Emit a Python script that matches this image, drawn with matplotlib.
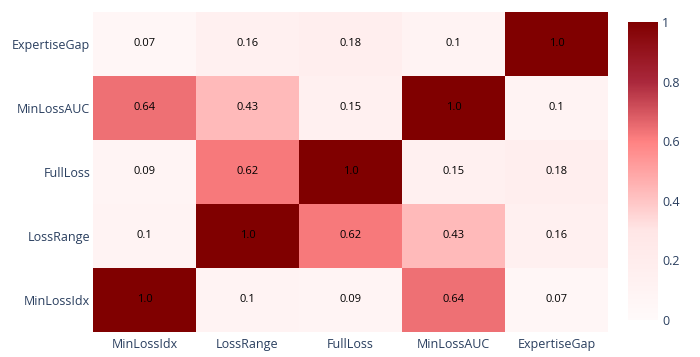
import numpy as np
import matplotlib
matplotlib.use("Agg")
import matplotlib.pyplot as plt
from matplotlib.colors import LinearSegmentedColormap

# variables in column order (x) and row order from bottom to top (y)
labels = ["MinLossIdx", "LossRange", "FullLoss", "MinLossAUC", "ExpertiseGap"]

# correlation values, row i = labels[i] (bottom row first)
row_minlossidx = [1.0, 0.1, 0.09, 0.64, 0.07]
row_lossrange = [0.1, 1.0, 0.62, 0.43, 0.16]
row_fullloss = [0.09, 0.62, 1.0, 0.15, 0.18]
row_minlossauc = [0.64, 0.43, 0.15, 1.0, 0.1]
row_expertisegap = [0.07, 0.16, 0.18, 0.1, 1.0]

cbar_ticks = [0, 0.2, 0.4, 0.6, 0.8, 1]

corr = np.array([row_minlossidx, row_lossrange, row_fullloss,
                 row_minlossauc, row_expertisegap])

# custom red scale
cmap = LinearSegmentedColormap.from_list("reds_custom", [
    (0.0, (255/255, 250/255, 250/255)),
    (0.3, (255/255, 230/255, 230/255)),
    (0.6, (255/255, 130/255, 130/255)),
    (0.8, (170/255, 40/255, 60/255)),
    (1.0, (128/255, 0/255, 0/255)),
])

plt.rcParams['font.family'] = ['Open Sans', 'DejaVu Sans']
text_col = "#2a3f5f"

fig = plt.figure(figsize=(7, 3.57), dpi=100)
ax = fig.add_axes([93/700, 1 - 332/357, 515/700, 320/357])

n = len(labels)
mesh = ax.pcolormesh(np.arange(n + 1) - 0.5, np.arange(n + 1) - 0.5, corr,
                     cmap=cmap, vmin=0, vmax=1)

for i in range(n):
    for j in range(n):
        v = corr[i, j]
        txt = f"{v:.1f}" if round(v, 1) == v else f"{v:.2f}"
        ax.text(j, i, txt, ha="center", va="center", fontsize=8, color="black")

ax.set_xlim(-0.5, n - 0.5)
ax.set_ylim(-0.5, n - 0.5)
ax.set_xticks(range(n))
ax.set_xticklabels(labels)
ax.set_yticks(range(n))
ax.set_yticklabels(labels)
ax.tick_params(length=0, labelsize=9, labelcolor=text_col)
ax.tick_params(axis="x", pad=4)
ax.tick_params(axis="y", pad=2)
for s in ax.spines.values():
    s.set_visible(False)

cax = fig.add_axes([628/700, 1 - 320/357, 30/700, 298/357])
cb = fig.colorbar(mesh, cax=cax, ticks=cbar_ticks)
cb.outline.set_visible(False)
cb.ax.set_yticklabels([str(t) for t in cbar_ticks])
cb.ax.tick_params(length=0, labelsize=9, labelcolor=text_col, pad=3)

fig.savefig("out.png", dpi=100)
